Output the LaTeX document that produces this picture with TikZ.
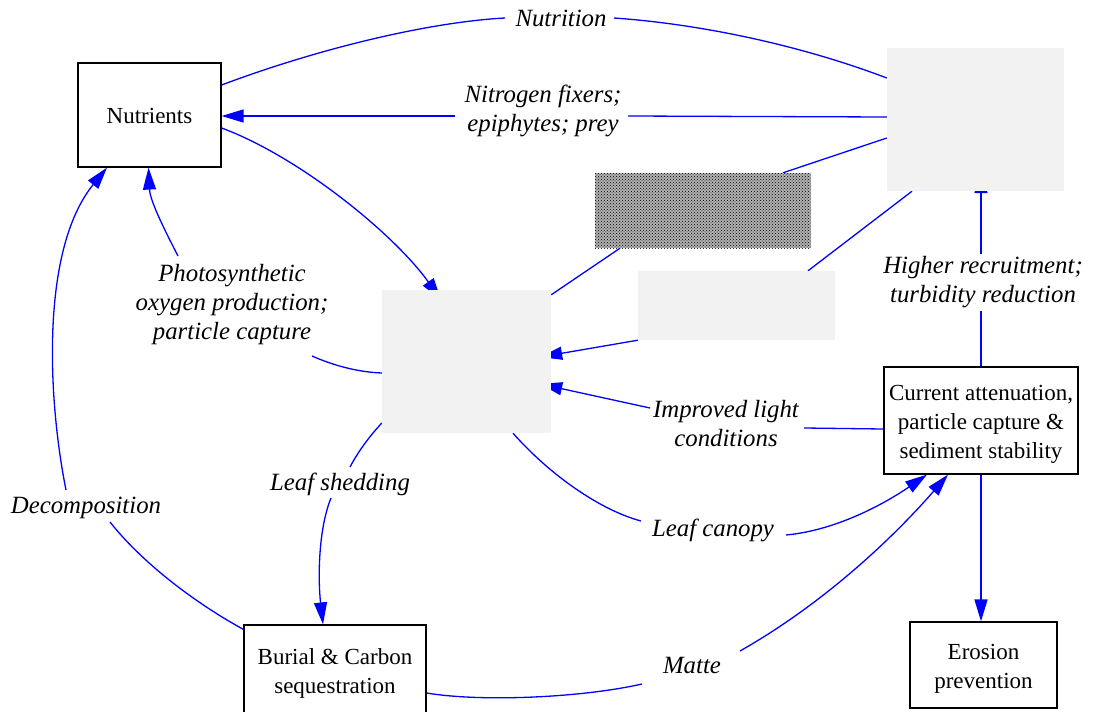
\documentclass[tikz,border=0pt]{standalone}
\usepackage{fontspec}
\setmainfont{Liberation Serif}
\usetikzlibrary{arrows.meta,calc,patterns,backgrounds}
\definecolor{boxgray}{HTML}{F2F2F2}
\definecolor{linkblue}{RGB}{0,0,255}
\newcommand{\lowtext}[1]{\raisebox{-3pt}[\height][\depth]{\begin{tabular}{@{}c@{}}#1\end{tabular}}}
\begin{document}
\begin{tikzpicture}[x=1pt,y=-1pt,
  box/.style={draw=black,line width=1.2pt,fill=white,inner sep=0pt,align=center,font=\fontsize{23}{29}\selectfont},
  graybox/.style={fill=boxgray,inner sep=0pt},
  lab/.style={inner sep=0pt,align=center,font=\fontsize{24.8}{29}\selectfont\itshape},
  link/.style={draw=linkblue,line width=1.3pt},
  linkarr/.style={link,-{Triangle[length=22pt,width=13pt]}}]
\useasboundingbox (0,0) rectangle (1093,712);
% boxes
\node[box,minimum width=143pt,minimum height=104pt] (nut) at (149.5,115) {\lowtext{Nutrients}};
\node[graybox,minimum width=177pt,minimum height=143pt] (tr) at (975.5,119.5) {};
\node[inner sep=0pt,minimum width=216pt,minimum height=75pt,preaction={fill=gray!62},pattern=crosshatch dots,pattern color=black] (tex) at (703,210.5) {};
\node[graybox,minimum width=169pt,minimum height=143pt] (m) at (466.5,361.5) {};
\node[graybox,minimum width=197pt,minimum height=69pt] (r2) at (736.5,305.5) {};
\node[box,minimum width=194pt,minimum height=107pt] (c) at (981,420.5) {\lowtext{Current attenuation,\\particle capture \&\\sediment stability}};
\node[box,minimum width=147pt,minimum height=86pt] (e) at (983.5,665) {\lowtext{Erosion\\prevention}};
\node[box,minimum width=182pt,minimum height=90pt] (b) at (335,670) {\lowtext{Burial \& Carbon\\sequestration}};
% labels
\node[lab] (lnut) at (561,18) {Nutrition};
\node[lab] (lnit) at (543,111) {Nitrogen fixers;\\epiphytes; prey};
\node[lab] (lpho) at (232,305) {Photosynthetic\\oxygen production;\\particle capture};
\node[lab] (ldec) at (86,508) {Decomposition};
\node[lab] (lshed) at (340,484) {Leaf shedding};
\node[lab] (lcan) at (713,530) {Leaf canopy};
\node[lab] (limp) at (726,424) {Improved light\\conditions};
\node[lab] (lmat) at (692,666) {Matte};
\node[lab] (lrec) at (983,282) {Higher recruitment;\\turbidity reduction};
\begin{scope}[on background layer]
% Nutrition
\draw[link] ($(nut.east)+(0,-30)$) .. controls (320,48) and (430,22) .. ($(lnut)+(-56,0)$);
\draw[link] ($(lnut)+(53,0)$) .. controls (700,24) and (800,45) .. ($(tr.west)+(0,-41.5)$);
% Nitrogen fixers
\draw[link] ($(tr.west)+(0,-2.5)$) -- ($(lnit)+(85,5)$);
\draw[linkarr] ($(lnit)+(-88,5)$) -- ($(nut.east)+(0,1)$);
% through textured box
\draw[link] ($(tr.west)+(0,18.5)$) -- ($(tex.north)+(80,0)$);
\draw[link] ($(tex.south)+(-83,0)$) -- ($(m.north east)+(0,5)$);
% through gray box r2
\draw[link] ($(tr.south)+(-63.5,0)$) -- ($(r2.north)+(71.5,0)$);
\draw[linkarr] (r2.south west) -- ($(m.east)+(-11,-4.5)$);
% Nutrients to M
\draw[linkarr] ($(nut.east)+(0,13)$) .. controls (300,157) and (395,235) .. ($(m.north)+(-25.5,10)$);
% Photosynthetic
\draw[link] ($(m.west)+(0,11.5)$) .. controls (355,372) and (330,364) .. ($(lpho)+(80,51)$);
\draw[linkarr] ($(lpho)+(-54,-49)$) .. controls (162,225) and (150,200) .. ($(nut.south)+(-1,0)$);
% Decomposition
\draw[link] ($(b.north west)+(0,5)$) .. controls (190,600) and (140,560) .. ($(ldec)+(24,14)$);
\draw[linkarr] ($(ldec)+(-20,-18)$) .. controls (48,400) and (40,250) .. ($(nut.south)+(-42.5,0)$);
% Leaf shedding
\draw[link] ($(m.west)+(0,61.5)$) .. controls (368,438) and (358,452) .. ($(lshed)+(10,-17)$);
\draw[linkarr] ($(lshed)+(-9,14)$) .. controls (318,530) and (318,580) .. ($(b.north)+(-12,0)$);
% Leaf canopy
\draw[link] ($(m.south)+(46.5,0)$) .. controls (550,475) and (600,510) .. ($(lcan)+(-72,-9)$);
\draw[linkarr] ($(lcan)+(73,5)$) .. controls (840,530) and (890,500) .. ($(c.south)+(-54,0)$);
% Improved light
\draw[link] ($(c.west)+(0,8.5)$) -- ($(limp)+(78,4)$);
\draw[linkarr] ($(limp)+(-76,-16)$) -- ($(m.east)+(-11,22.5)$);
% Matte
\draw[link] ($(b.east)+(0,23)$) .. controls (480,702) and (580,698) .. ($(lmat)+(-50,18)$);
\draw[linkarr] ($(lmat)+(48,-15)$) .. controls (830,600) and (900,530) .. ($(c.south)+(-33,0)$);
% Higher recruitment
\draw[link] (c.north) -- ($(lrec)+(-2,29)$);
\draw[linkarr] ($(lrec)+(-2,-28)$) -- ($(tr.south)+(5.5,-20)$);
% Erosion
\draw[linkarr] (c.south) -- (c.south |- e.north);
\end{scope}
\end{tikzpicture}
\end{document}
